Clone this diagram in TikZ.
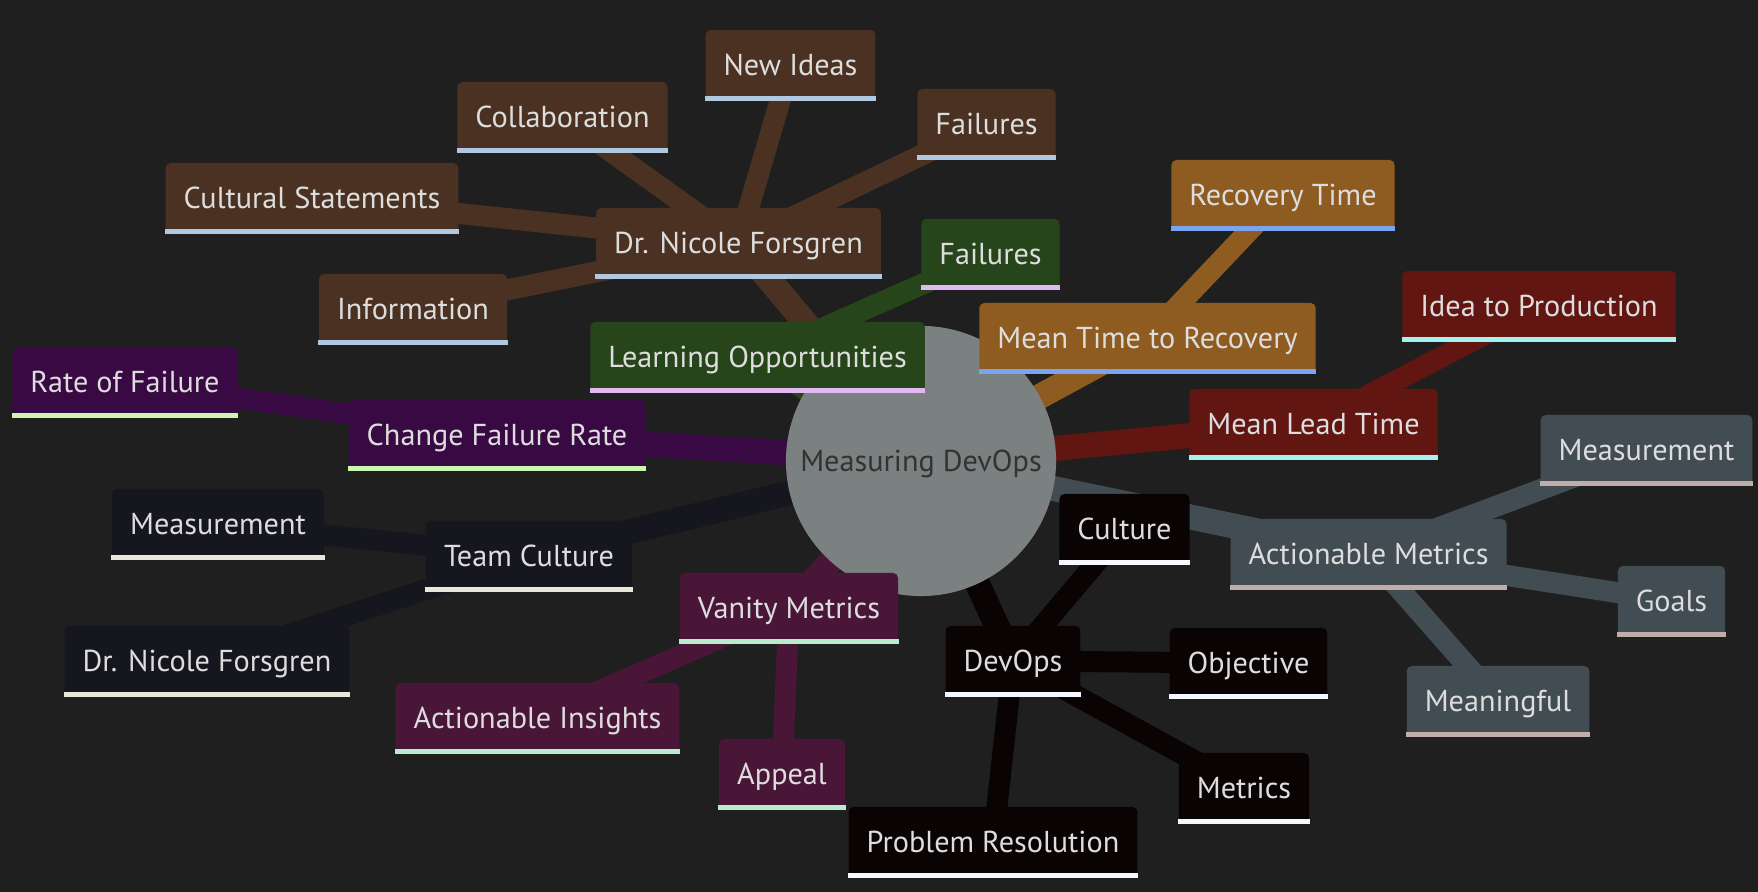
\documentclass[tikz,border=0pt]{standalone}
\usepackage{fontspec}
\setmainfont{PT Sans}
\usepackage{tikz}
\definecolor{bgdark}{HTML}{1F1F1F}
\definecolor{mmtext}{HTML}{DDDDDD}
\definecolor{mmroot}{HTML}{7B8081}
\definecolor{mmroottext}{HTML}{333333}
\definecolor{mmbrown}{HTML}{4A3121}
\definecolor{ulbrown}{HTML}{B0C8E0}
\definecolor{mmgreen}{HTML}{26451A}
\definecolor{ulgreen}{HTML}{E2B8F2}
\definecolor{mmorange}{HTML}{8E5B20}
\definecolor{ulorange}{HTML}{7AA4F0}
\definecolor{mmred}{HTML}{611612}
\definecolor{ulred}{HTML}{A4F2F0}
\definecolor{mmslate}{HTML}{414D52}
\definecolor{ulslate}{HTML}{BEADA8}
\definecolor{mmblack}{HTML}{0A0303}
\definecolor{ulblack}{HTML}{F5F8FF}
\definecolor{mmplum}{HTML}{491638}
\definecolor{ulplum}{HTML}{B9EBCD}
\definecolor{mmnavy}{HTML}{16161F}
\definecolor{ulnavy}{HTML}{E9E6DA}
\definecolor{mmpurple}{HTML}{380942}
\definecolor{ulpurple}{HTML}{CCF5B0}
\pgfdeclarelayer{bg}
\pgfdeclarelayer{edges}
\pgfdeclarelayer{fg}
\pgfsetlayers{bg,edges,main,fg}
\tikzset{
  mmnode/.style 2 args={fill=#1, text=mmtext, rounded corners=0.05cm,
    minimum height=0.7cm, inner xsep=0.18cm, inner ysep=0pt,
    text height=6.1pt, text depth=0pt,
    append after command={\pgfextra{\begin{pgfonlayer}{fg}\fill[#2, sharp corners]
      ([yshift=0.05cm]\tikzlastnode.south west) rectangle (\tikzlastnode.south east);\end{pgfonlayer}}}},
  rootedge/.style={draw=#1, line width=0.25cm},
  subedge/.style={draw=#1, line width=0.21cm},
}
\begin{document}
\begin{tikzpicture}[x=0.01cm, y=-0.01cm, font=\fontsize{8.6pt}{10pt}\selectfont]
        % background
        \begin{pgfonlayer}{bg}
        \fill[bgdark] (0,0) rectangle (1758,892);
        \end{pgfonlayer}
        \useasboundingbox (0,0) rectangle (1758,892);

        % root
        \node[circle, fill=mmroot, text=mmroottext, minimum size=2.7cm, inner sep=0pt,
              text height=6.1pt, text depth=0pt] (root) at (921,461) {Measuring DevOps};

        % Dr. Nicole Forsgren branch
        \node[mmnode={mmbrown}{ulbrown}] (nicole) at (738.5,243) {Dr. Nicole Forsgren};
        \node[mmnode={mmbrown}{ulbrown}] (ideas) at (790.5,65) {New Ideas};
        \node[mmnode={mmbrown}{ulbrown}] (collab) at (562.5,117) {Collaboration};
        \node[mmnode={mmbrown}{ulbrown}] (statements) at (312,198) {Cultural Statements};
        \node[mmnode={mmbrown}{ulbrown}] (info) at (413,309) {Information};
        \node[mmnode={mmbrown}{ulbrown}] (failA) at (986.5,124) {Failures};

        % Learning Opportunities branch
        \node[mmnode={mmgreen}{ulgreen}] (learning) at (757.5,357) {Learning Opportunities};
        \node[mmnode={mmgreen}{ulgreen}] (failB) at (990.5,254) {Failures};

        % Mean Time to Recovery branch
        \node[mmnode={mmorange}{ulorange}] (mttr) at (1147.5,338) {Mean Time to Recovery};
        \node[mmnode={mmorange}{ulorange}] (recovery) at (1283,195) {Recovery Time};

        % Mean Lead Time branch
        \node[mmnode={mmred}{ulred}] (leadtime) at (1313.5,424) {Mean Lead Time};
        \node[mmnode={mmred}{ulred}] (ideaprod) at (1539,306) {Idea to Production};

        % Actionable Metrics branch
        \node[mmnode={mmslate}{ulslate}] (actmetrics) at (1368.5,554) {Actionable Metrics};
        \node[mmnode={mmslate}{ulslate}] (measA) at (1646.5,450) {Measurement};
        \node[mmnode={mmslate}{ulslate}] (goals) at (1671.5,601) {Goals};
        \node[mmnode={mmslate}{ulslate}] (meaningful) at (1498,701) {Meaningful};

        % DevOps branch
        \node[mmnode={mmblack}{ulblack}] (devops) at (1013,661) {DevOps};
        \node[mmnode={mmblack}{ulblack}] (culture) at (1124.5,529) {Culture};
        \node[mmnode={mmblack}{ulblack}] (objective) at (1248.5,663) {Objective};
        \node[mmnode={mmblack}{ulblack}] (metrics) at (1244,788) {Metrics};
        \node[mmnode={mmblack}{ulblack}] (problem) at (993,842) {Problem Resolution};

        % Vanity Metrics branch
        \node[mmnode={mmplum}{ulplum}] (vanity) at (789,608) {Vanity Metrics};
        \node[mmnode={mmplum}{ulplum}] (insights) at (537.5,718) {Actionable Insights};
        \node[mmnode={mmplum}{ulplum}] (appeal) at (782,774) {Appeal};

        % Team Culture branch
        \node[mmnode={mmnavy}{ulnavy}] (team) at (529,556) {Team Culture};
        \node[mmnode={mmnavy}{ulnavy}] (measB) at (218,524) {Measurement};
        \node[mmnode={mmnavy}{ulnavy}] (nicoleB) at (207,661) {Dr. Nicole Forsgren};

        % Change Failure Rate branch
        \node[mmnode={mmpurple}{ulpurple}] (cfr) at (497,435) {Change Failure Rate};
        \node[mmnode={mmpurple}{ulpurple}] (rate) at (125,382) {Rate of Failure};

        % edges
        \begin{pgfonlayer}{edges}
        \draw[rootedge=mmbrown] (root.center) -- (nicole.center);
        \draw[subedge=mmbrown] (nicole.center) -- (ideas.center);
        \draw[subedge=mmbrown] (nicole.center) -- (collab.center);
        \draw[subedge=mmbrown] (nicole.center) -- (statements.center);
        \draw[subedge=mmbrown] (nicole.center) -- (info.center);
        \draw[subedge=mmbrown] (nicole.center) -- (failA.center);

        \draw[rootedge=mmgreen] (root.center) -- (learning.center);
        \draw[subedge=mmgreen] (learning.center) -- (failB.center);

        \draw[rootedge=mmorange] (root.center) -- (mttr.center);
        \draw[subedge=mmorange] (mttr.center) -- (recovery.center);

        \draw[rootedge=mmred] (root.center) -- (leadtime.center);
        \draw[subedge=mmred] (leadtime.center) -- (ideaprod.center);

        \draw[rootedge=mmslate] (root.center) -- (actmetrics.center);
        \draw[subedge=mmslate] (actmetrics.center) -- (measA.center);
        \draw[subedge=mmslate] (actmetrics.center) -- (goals.center);
        \draw[subedge=mmslate] (actmetrics.center) -- (meaningful.center);

        \draw[rootedge=mmblack] (root.center) -- (devops.center);
        \draw[subedge=mmblack] (devops.center) -- (culture.center);
        \draw[subedge=mmblack] (devops.center) -- (objective.center);
        \draw[subedge=mmblack] (devops.center) -- (metrics.center);
        \draw[subedge=mmblack] (devops.center) -- (problem.center);

        \draw[rootedge=mmplum] (root.center) -- (vanity.center);
        \draw[subedge=mmplum] (vanity.center) -- (insights.center);
        \draw[subedge=mmplum] (vanity.center) -- (appeal.center);

        \draw[rootedge=mmnavy] (root.center) -- (team.center);
        \draw[subedge=mmnavy] (team.center) -- (measB.center);
        \draw[subedge=mmnavy] (team.center) -- (nicoleB.center);

        \draw[rootedge=mmpurple] (root.center) -- (cfr.center);
        \draw[subedge=mmpurple] (cfr.center) -- (rate.center);
        \end{pgfonlayer}
\end{tikzpicture}
\end{document}
